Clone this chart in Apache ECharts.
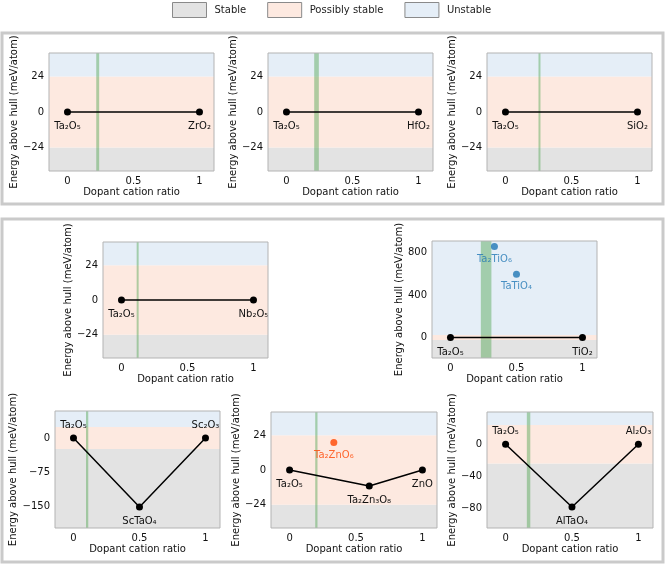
<!DOCTYPE html>
<html>
<head>
<meta charset="utf-8">
<script src="https://cdn.jsdelivr.net/npm/echarts@6/dist/echarts.min.js"></script>
<style>
  html, body { margin: 0; padding: 0; background: #fff; }
  #chart { width: 665px; height: 565px; }
</style>
</head>
<body>
<div id="chart"></div>
<script>
// hull points per dopant system (dopant cation ratio, meV/atom)
const hullRatio = [[0, 1], [0, 1], [0, 1], [0, 1], [0, 1], [0, 0.5, 1], [0, 0.6, 1], [0, 0.5, 1]];
const hullEnergy = [[0, 0], [0, 0], [0, 0], [0, 0], [0, 0], [0, -150, 0], [0, -11, 0], [0, -78, 0]];
const hullNames = [
  ['Ta₂O₅', 'ZrO₂'], ['Ta₂O₅', 'HfO₂'], ['Ta₂O₅', 'SiO₂'], ['Ta₂O₅', 'Nb₂O₅'], ['Ta₂O₅', 'TiO₂'],
  ['Ta₂O₅', 'ScTaO₄', 'Sc₂O₃'], ['Ta₂O₅', 'Ta₂Zn₃O₈', 'ZnO'], ['Ta₂O₅', 'AlTaO₄', 'Al₂O₃']
];
// phases above the hull
const offRatio = [[], [], [], [], [0.333, 0.5], [], [0.333], []];
const offEnergy = [[], [], [], [], [857, 596], [], [19], []];
const offNames = [[], [], [], [], ['Ta₂TiO₆', 'TaTiO₄'], [], ['Ta₂ZnO₆'], []];
// green band: dopant ratio limit
const limitLo = [0.218, 0.21, 0.25, 0.115, 0.23, 0.095, 0.193, 0.16];
const limitHi = [0.24, 0.245, 0.265, 0.13, 0.31, 0.112, 0.21, 0.186];
// axes
const yMin = [-40, -40, -40, -40, -193, -196, -40, -104];
const yMax = [40, 40, 40, 40, 910, 59, 40, 40];
const yTicks = [[-24, 0, 24], [-24, 0, 24], [-24, 0, 24], [-24, 0, 24], [0, 400, 800], [-150, -75, 0], [-24, 0, 24], [-80, -40, 0]];
const xTicks = [0, 0.5, 1];
const stableCut = -24, unstableCut = 24;
const bandNames = ['Stable', 'Possibly stable', 'Unstable'];

// layout
const gridPos = [
  [49, 53, 165, 118], [268, 53, 165, 118], [487, 53, 165, 118],
  [103, 242, 165, 116], [432, 241, 165, 117],
  [55, 411, 165, 117], [271, 412, 166, 116], [487, 412, 166, 116]
];
const yNameGap = [28, 29, 28, 24, 23, 33, 28, 26];
const endLabelTop = [false, false, false, false, false, true, false, true];
const bandColors = ['#e3e3e3', '#fde9e0', '#e5eef7'];
const fontFam = 'DejaVu Sans';

const chart = echarts.init(document.getElementById('chart'));

const grids = [], xAxes = [], yAxes = [], series = [];
gridPos.forEach(function (g, i) {
  grids.push({
    left: g[0], top: g[1], width: g[2], height: g[3],
    show: true, backgroundColor: 'transparent', borderColor: '#b3b3b3', borderWidth: 1, z: 5
  });
  xAxes.push({
    type: 'value', gridIndex: i, min: -0.14, max: 1.11,
    name: 'Dopant cation ratio', nameLocation: 'middle', nameGap: 16,
    nameTextStyle: { fontSize: 10, color: '#111', fontFamily: fontFam },
    axisLine: { show: false }, axisTick: { show: false }, splitLine: { show: false },
    axisLabel: { customValues: xTicks, fontSize: 10, color: '#111', margin: 5, fontFamily: fontFam,
      formatter: function (v) { return String(v); } }
  });
  yAxes.push({
    type: 'value', gridIndex: i, min: yMin[i], max: yMax[i],
    name: 'Energy above hull (meV/atom)', nameLocation: 'middle', nameGap: yNameGap[i],
    nameTextStyle: { fontSize: 10, color: '#111', fontFamily: fontFam },
    axisLine: { show: false }, axisTick: { show: false }, splitLine: { show: false },
    axisLabel: { customValues: yTicks[i], fontSize: 10, color: '#111', margin: 5, fontFamily: fontFam,
      formatter: function (v) { return String(v).replace('-', '\u2212'); } }
  });

  const bandRanges = [[yMin[i], stableCut], [stableCut, unstableCut], [unstableCut, yMax[i]]];
  bandNames.forEach(function (name, k) {
    series.push({
      name: name, type: 'line', xAxisIndex: i, yAxisIndex: i, data: [], z: 1,
      itemStyle: { color: bandColors[k] },
      markArea: { silent: true, itemStyle: { color: bandColors[k] },
        data: [[{ yAxis: bandRanges[k][0] }, { yAxis: bandRanges[k][1] }]] }
    });
  });
  series.push({
    type: 'line', xAxisIndex: i, yAxisIndex: i, data: [], z: 2,
    markArea: { silent: true, itemStyle: { color: 'rgba(80,165,80,0.45)' },
      data: [[{ xAxis: limitLo[i] }, { xAxis: limitHi[i] }]] }
  });

  const n = hullRatio[i].length;
  series.push({
    type: 'line', xAxisIndex: i, yAxisIndex: i, z: 3,
    symbol: 'circle', symbolSize: 7,
    itemStyle: { color: '#000' }, lineStyle: { color: '#000', width: 1.5 },
    data: hullRatio[i].map(function (x, j) {
      const isEnd = j === 0 || j === n - 1;
      const top = isEnd && endLabelTop[i];
      return {
        value: [x, hullEnergy[i][j]], name: hullNames[i][j],
        label: { show: true, position: top ? 'top' : 'bottom', distance: top ? 4 : 6,
          formatter: '{b}', fontSize: 10, color: '#111', fontFamily: fontFam }
      };
    })
  });
  if (offRatio[i].length) {
    series.push({
      type: 'scatter', xAxisIndex: i, yAxisIndex: i, z: 3, symbolSize: 7,
      data: offRatio[i].map(function (x, j) {
        const e = offEnergy[i][j];
        const c = e > unstableCut ? '#1f77b4' : '#ff4500';
        return {
          value: [x, e], name: offNames[i][j], itemStyle: { color: c },
          label: { show: true, position: 'bottom', distance: 4, formatter: '{b}',
            fontSize: 10, color: c, fontFamily: fontFam }
        };
      })
    });
  }
});

chart.setOption({
  animation: false,
  textStyle: { fontFamily: fontFam },
  legend: {
    left: 172, top: 2, padding: 0, icon: 'rect', itemWidth: 34, itemHeight: 15, itemGap: 21,
    selectedMode: false,
    textStyle: { fontSize: 10, color: '#222', fontFamily: fontFam, padding: [0, 0, 0, 3] },
    data: bandNames.map(function (name, k) {
      return { name: name, itemStyle: { color: bandColors[k], borderColor: '#8a8a8a', borderWidth: 1 } };
    })
  },
  graphic: [
    { type: 'rect', z: 100, silent: true, shape: { x: 2, y: 33, width: 661, height: 171 },
      style: { fill: null, stroke: '#cacaca', lineWidth: 3 } },
    { type: 'rect', z: 100, silent: true, shape: { x: 2, y: 219, width: 661, height: 343 },
      style: { fill: null, stroke: '#cacaca', lineWidth: 3 } }
  ],
  grid: grids,
  xAxis: xAxes,
  yAxis: yAxes,
  series: series
});
</script>
</body>
</html>
